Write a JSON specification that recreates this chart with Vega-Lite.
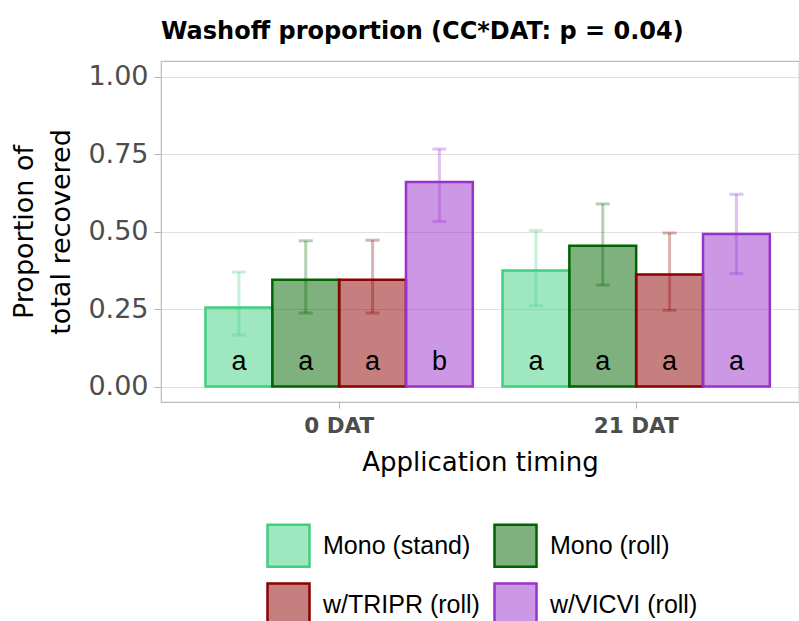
{
  "$schema": "https://vega.github.io/schema/vega-lite/v6.json",
  "autosize": {"type": "none"},
  "padding": {"left": 161, "top": 61, "right": 0, "bottom": 219},
  "width": 638,
  "height": 341,
  "background": "white",
  "title": {
    "text": "Washoff proportion (CC*DAT: p = 0.04)",
    "anchor": "start",
    "frame": "group",
    "fontSize": 24,
    "fontWeight": "bold",
    "font": "DejaVu Sans",
    "color": "#000000",
    "offset": 17
  },
  "config": {
    "font": "DejaVu Sans",
    "view": {"stroke": "#bdbdbd", "strokeWidth": 1.2},
    "axis": {"domain": false, "tickColor": "#b3b3b3", "gridColor": "#e0e0e0"}
  },
  "data": {
    "values": [
      {"dat": "0 DAT", "trt": "Mono (stand)", "mean": 0.255, "lo": 0.166, "hi": 0.369, "letter": "a"},
      {"dat": "0 DAT", "trt": "Mono (roll)", "mean": 0.344, "lo": 0.237, "hi": 0.470, "letter": "a"},
      {"dat": "0 DAT", "trt": "w/TRIPR (roll)", "mean": 0.344, "lo": 0.237, "hi": 0.472, "letter": "a"},
      {"dat": "0 DAT", "trt": "w/VICVI (roll)", "mean": 0.660, "lo": 0.532, "hi": 0.766, "letter": "b"},
      {"dat": "21 DAT", "trt": "Mono (stand)", "mean": 0.374, "lo": 0.260, "hi": 0.503, "letter": "a"},
      {"dat": "21 DAT", "trt": "Mono (roll)", "mean": 0.454, "lo": 0.327, "hi": 0.589, "letter": "a"},
      {"dat": "21 DAT", "trt": "w/TRIPR (roll)", "mean": 0.361, "lo": 0.246, "hi": 0.495, "letter": "a"},
      {"dat": "21 DAT", "trt": "w/VICVI (roll)", "mean": 0.492, "lo": 0.364, "hi": 0.620, "letter": "a"}
    ]
  },
  "encoding": {
    "x": {
      "field": "dat",
      "type": "nominal",
      "sort": ["0 DAT", "21 DAT"],
      "scale": {"paddingInner": 0.1, "paddingOuter": 0.124, "align": 0.604},
      "axis": {
        "title": "Application timing",
        "titleFont": "DejaVu Sans",
        "titleFontSize": 26,
        "titleFontWeight": "normal",
        "titleColor": "#000000",
        "titlePadding": 13,
        "labelAngle": 0,
        "labelFont": "DejaVu Sans",
        "labelFontSize": 21.5,
        "labelFontWeight": "bold",
        "labelColor": "#4d4d4d",
        "labelPadding": 7,
        "tickSize": 6,
        "grid": false
      }
    },
    "xOffset": {
      "field": "trt",
      "type": "nominal",
      "sort": ["Mono (stand)", "Mono (roll)", "w/TRIPR (roll)", "w/VICVI (roll)"],
      "scale": {"paddingInner": 0, "paddingOuter": 0}
    }
  },
  "layer": [
    {
      "mark": {"type": "bar", "strokeWidth": 2.5},
      "encoding": {
        "y": {
          "field": "mean",
          "type": "quantitative",
          "scale": {"domain": [-0.05, 1.05], "nice": false, "zero": false},
          "axis": {
            "title": ["Proportion of", "total recovered"],
            "titleFont": "DejaVu Sans",
            "titleFontSize": 27,
            "titleFontWeight": "normal",
            "titleColor": "#000000",
            "titleLineHeight": 37,
            "titlePadding": 12,
            "values": [0, 0.25, 0.5, 0.75, 1],
            "format": ".2f",
            "labelFont": "DejaVu Sans",
            "labelFontSize": 27,
            "labelColor": "#4d4d4d",
            "labelPadding": 6,
            "tickSize": 7,
            "grid": true
          }
        },
        "y2": {"datum": 0},
        "fill": {
          "field": "trt",
          "type": "nominal",
          "sort": ["Mono (stand)", "Mono (roll)", "w/TRIPR (roll)", "w/VICVI (roll)"],
          "scale": {
            "domain": ["Mono (stand)", "Mono (roll)", "w/TRIPR (roll)", "w/VICVI (roll)"],
            "range": ["rgba(64,207,128,0.5)", "rgba(0,100,0,0.5)", "rgba(139,0,0,0.5)", "rgba(153,50,204,0.5)"]
          },
          "legend": {
            "title": null,
            "orient": "none",
            "legendX": 105,
            "legendY": 462,
            "columns": 2,
            "direction": "horizontal",
            "symbolType": "square",
            "symbolSize": 1764,
            "symbolStrokeWidth": 2.5,
            "labelFont": "Liberation Sans",
            "labelFontSize": 25,
            "labelColor": "#000000",
            "labelOffset": 12,
            "columnPadding": 9,
            "rowPadding": 6
          }
        },
        "stroke": {
          "field": "trt",
          "type": "nominal",
          "sort": ["Mono (stand)", "Mono (roll)", "w/TRIPR (roll)", "w/VICVI (roll)"],
          "scale": {
            "domain": ["Mono (stand)", "Mono (roll)", "w/TRIPR (roll)", "w/VICVI (roll)"],
            "range": ["#40CF80", "#006400", "#8B0000", "#9932CC"]
          },
          "legend": {
            "title": null,
            "orient": "none",
            "legendX": 105,
            "legendY": 462,
            "columns": 2,
            "direction": "horizontal",
            "symbolType": "square",
            "symbolSize": 1764,
            "symbolStrokeWidth": 2.5,
            "labelFont": "Liberation Sans",
            "labelFontSize": 25,
            "labelColor": "#000000",
            "labelOffset": 12,
            "columnPadding": 9,
            "rowPadding": 6
          }
        }
      }
    },
    {
      "mark": {"type": "rule", "strokeWidth": 3, "opacity": 0.3},
      "encoding": {
        "y": {"field": "lo", "type": "quantitative"},
        "y2": {"field": "hi"},
        "color": {
          "field": "trt",
          "type": "nominal",
          "scale": {
            "domain": ["Mono (stand)", "Mono (roll)", "w/TRIPR (roll)", "w/VICVI (roll)"],
            "range": ["#40CF80", "#006400", "#8B0000", "#9932CC"]
          },
          "legend": null
        }
      }
    },
    {
      "mark": {"type": "tick", "size": 14, "thickness": 3, "opacity": 0.3},
      "encoding": {
        "y": {"field": "lo", "type": "quantitative"},
        "color": {"field": "trt", "type": "nominal", "legend": null}
      }
    },
    {
      "mark": {"type": "tick", "size": 14, "thickness": 3, "opacity": 0.3},
      "encoding": {
        "y": {"field": "hi", "type": "quantitative"},
        "color": {"field": "trt", "type": "nominal", "legend": null}
      }
    },
    {
      "mark": {"type": "text", "fontSize": 27, "font": "Liberation Sans", "color": "#000000", "baseline": "middle"},
      "encoding": {
        "y": {"datum": 0.08},
        "text": {"field": "letter"}
      }
    }
  ]
}
